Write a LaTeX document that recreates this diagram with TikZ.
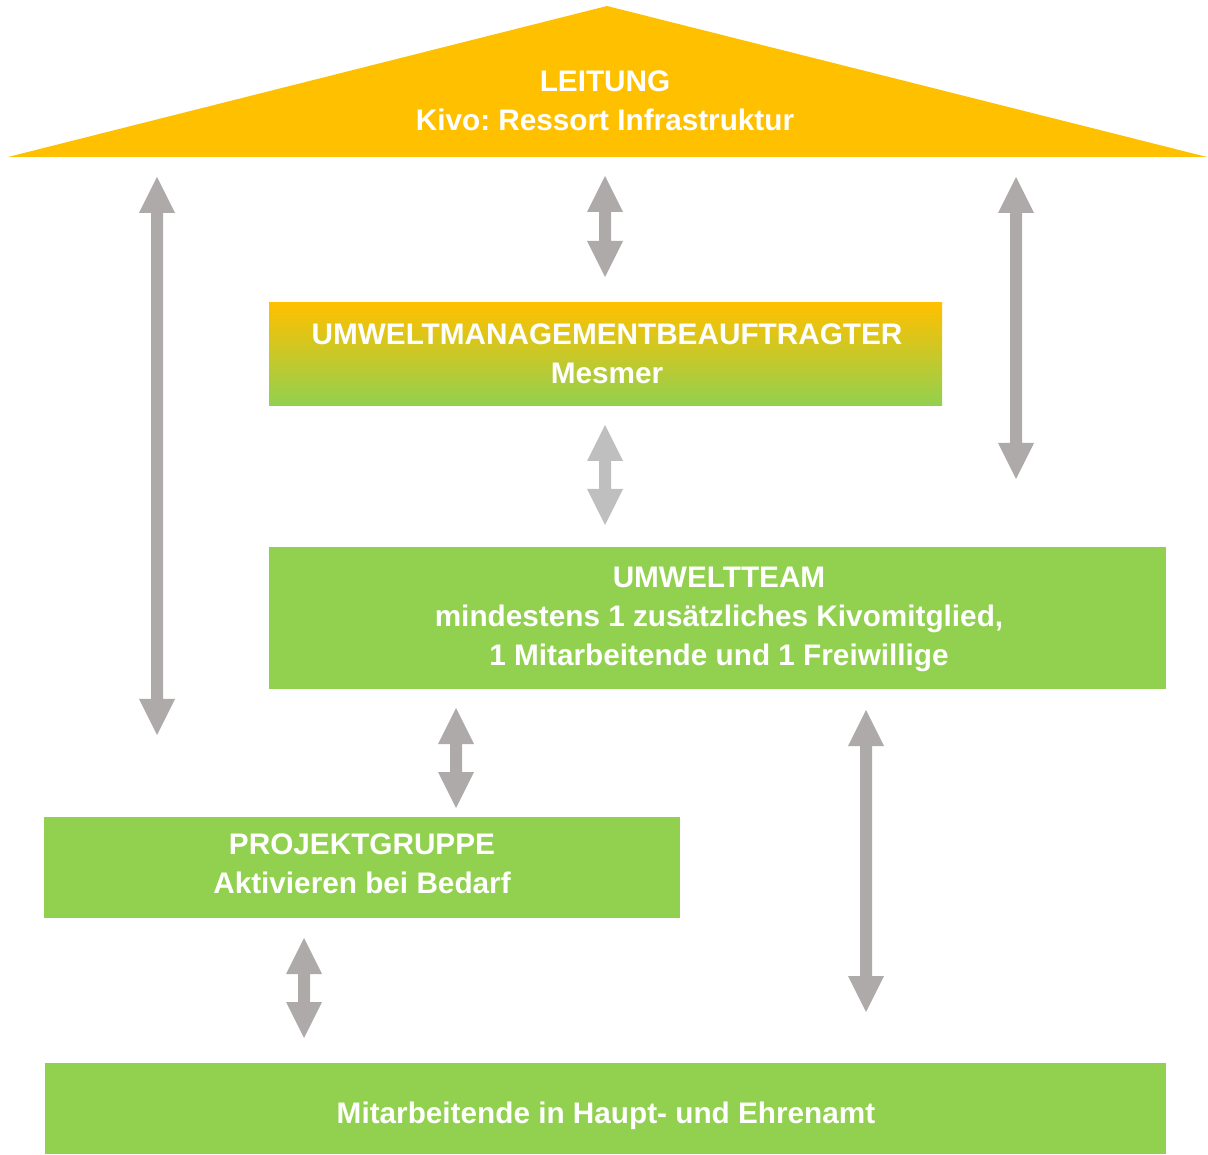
\documentclass[tikz,border=0pt]{standalone}
\usepackage{fontspec}
\setmainfont{Liberation Sans}
\frenchspacing
\definecolor{gold}{HTML}{FFC000}
\definecolor{leaf}{HTML}{92D050}
\definecolor{arrowgray}{HTML}{AEAAAA}
\definecolor{arrowlight}{HTML}{BFBFBF}
\newcommand\blockarrow[4]{%
  \fill[#4] (#1,#2) -- (#1+18,#2+36) -- (#1+6,#2+36) -- (#1+6,#3-36) -- (#1+18,#3-36)
    -- (#1,#3) -- (#1-18,#3-36) -- (#1-6,#3-36) -- (#1-6,#2+36) -- (#1-18,#2+36) -- cycle;}
\tikzset{
  lbl/.style={text=white, font=\bfseries\fontsize{22.3}{29.25}\selectfont, align=center, inner sep=0pt},
  box/.style={lbl, fill=leaf, rectangle},
}
\begin{document}
\begin{tikzpicture}[x=0.75pt, y=-0.75pt]
\useasboundingbox (0,0) rectangle (1208,1155);
% roof
\coordinate (apex) at (607,6);
\coordinate (bl) at (8,157);
\coordinate (br) at (1207,157);
\fill[gold] (apex) -- (br) -- (bl) -- cycle;
\node[lbl] (leitung) at (605,101) {LEITUNG\\Kivo: Ressort Infrastruktur};
% boxes
\node[box, top color=gold, bottom color=leaf, minimum width=504.75pt, minimum height=77.25pt] (umb) at (605.5,354.5) {};
\node[lbl] (umbtext) at (607,354) {UMWELTMANAGEMENTBEAUFTRAGTER\\Mesmer};
\node[box, minimum width=672.75pt, minimum height=106.5pt] (team) at (717.5,618) {};
\node[lbl] (teamtext) at (719,619) {UMWELTTEAM\\mindestens 1 zusätzliches Kivomitglied,\\1 Mitarbeitende und 1 Freiwillige};
\node[box, minimum width=477pt, minimum height=75.75pt] (projekt) at (362,867.5) {};
\node[lbl] (projekttext) at (362,864) {PROJEKTGRUPPE\\Aktivieren bei Bedarf};
\node[box, minimum width=840.75pt, minimum height=68.25pt] (basis) at (605.5,1108.5) {};
\node[lbl] (basistext) at (606,1115.5) {Mitarbeitende in Haupt- und Ehrenamt};
% arrows
\blockarrow{157}{177}{735}{arrowgray}
\blockarrow{605}{176}{277}{arrowgray}
\blockarrow{1016}{177}{479}{arrowgray}
\blockarrow{605}{425}{525}{arrowlight}
\blockarrow{456}{708}{808}{arrowgray}
\blockarrow{866}{710}{1012}{arrowgray}
\blockarrow{304}{938}{1038}{arrowgray}
\end{tikzpicture}
\end{document}
